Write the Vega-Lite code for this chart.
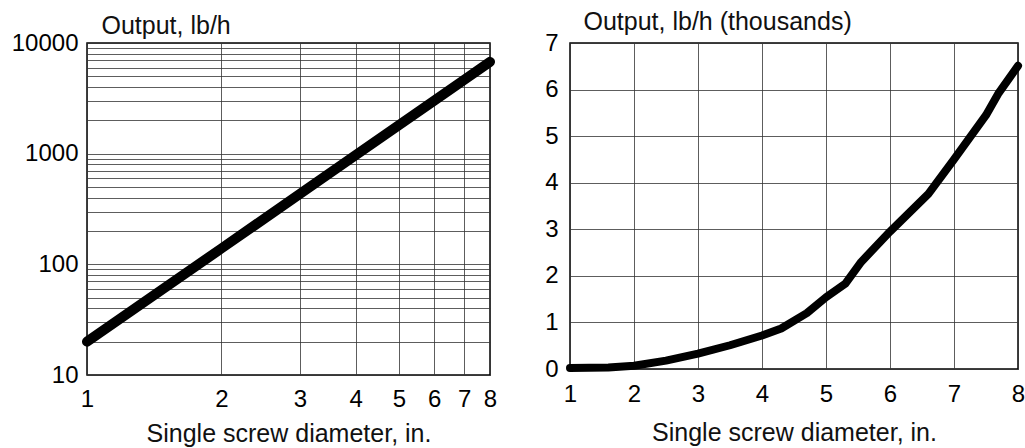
{
  "$schema": "https://vega.github.io/schema/vega-lite/v6.json",
  "padding": {"left": 10, "top": 8, "right": 5, "bottom": 0},
  "background": "white",
  "spacing": 32,
  "config": {
    "font": "Liberation Sans",
    "view": {"stroke": "black", "strokeWidth": 1.5},
    "axis": {
      "labelFont": "Liberation Sans",
      "titleFont": "Liberation Sans",
      "labelFontSize": 24,
      "titleFontSize": 25,
      "labelColor": "#000",
      "titleColor": "#111",
      "titleFontWeight": "normal",
      "domain": false,
      "ticks": false,
      "gridColor": "#333",
      "gridOpacity": 1,
      "gridWidth": 0.8,
      "labelFlush": false
    }
  },
  "datasets": {
    "loglog": [
      {"diameter": 1, "output": 20},
      {"diameter": 2, "output": 139},
      {"diameter": 3, "output": 433},
      {"diameter": 4, "output": 970},
      {"diameter": 5, "output": 1810},
      {"diameter": 6, "output": 3020},
      {"diameter": 7, "output": 4640},
      {"diameter": 8, "output": 6760}
    ],
    "linear": [
      {"diameter": 1, "output": 0.02},
      {"diameter": 1.6, "output": 0.03},
      {"diameter": 2, "output": 0.07},
      {"diameter": 2.5, "output": 0.18},
      {"diameter": 3, "output": 0.33},
      {"diameter": 3.5, "output": 0.51},
      {"diameter": 4, "output": 0.72},
      {"diameter": 4.3, "output": 0.87},
      {"diameter": 4.7, "output": 1.2},
      {"diameter": 5, "output": 1.54},
      {"diameter": 5.3, "output": 1.83},
      {"diameter": 5.55, "output": 2.3},
      {"diameter": 6, "output": 2.95},
      {"diameter": 6.6, "output": 3.76},
      {"diameter": 7, "output": 4.5},
      {"diameter": 7.5, "output": 5.45},
      {"diameter": 7.7, "output": 5.93},
      {"diameter": 8, "output": 6.51}
    ]
  },
  "hconcat": [
    {
      "width": 403,
      "height": 332,
      "data": {"name": "loglog"},
      "mark": {"type": "line", "color": "black", "strokeWidth": 10, "strokeCap": "round"},
      "encoding": {
        "x": {
          "field": "diameter", "type": "quantitative",
          "scale": {"type": "log", "domain": [1, 8], "nice": false},
          "axis": {"values": [1, 2, 3, 4, 5, 6, 7, 8], "format": "d", "title": "Single screw diameter, in.", "labelPadding": 12, "titlePadding": 10}
        },
        "y": {
          "field": "output", "type": "quantitative",
          "scale": {"type": "log", "domain": [10, 10000], "nice": false},
          "axis": {
            "values": [10, 20, 30, 40, 50, 60, 70, 80, 90, 100, 200, 300, 400, 500, 600, 700, 800, 900, 1000, 2000, 3000, 4000, 5000, 6000, 7000, 8000, 9000, 10000],
            "format": "d",
            "labelExpr": "indexof([10, 100, 1000, 10000], datum.value) >= 0 ? datum.label : ''",
            "title": "Output, lb/h",
            "titleAngle": 0, "titleAlign": "left", "titleBaseline": "alphabetic",
            "titleX": 14, "titleY": -10,
            "labelPadding": 9
          }
        }
      }
    },
    {
      "width": 448,
      "height": 326,
      "data": {"name": "linear"},
      "mark": {"type": "line", "color": "black", "strokeWidth": 8, "strokeCap": "round", "strokeJoin": "round"},
      "encoding": {
        "x": {
          "field": "diameter", "type": "quantitative",
          "scale": {"domain": [1, 8], "nice": false, "zero": false},
          "axis": {"values": [1, 2, 3, 4, 5, 6, 7, 8], "format": "d", "title": "Single screw diameter, in.", "labelPadding": 13, "titlePadding": 14}
        },
        "y": {
          "field": "output", "type": "quantitative",
          "scale": {"domain": [0, 7], "nice": false},
          "axis": {
            "values": [0, 1, 2, 3, 4, 5, 6, 7],
            "format": "d",
            "title": "Output, lb/h (thousands)",
            "titleAngle": 0, "titleAlign": "left", "titleBaseline": "alphabetic",
            "titleX": 13, "titleY": -14,
            "labelPadding": 12
          }
        }
      }
    }
  ]
}
